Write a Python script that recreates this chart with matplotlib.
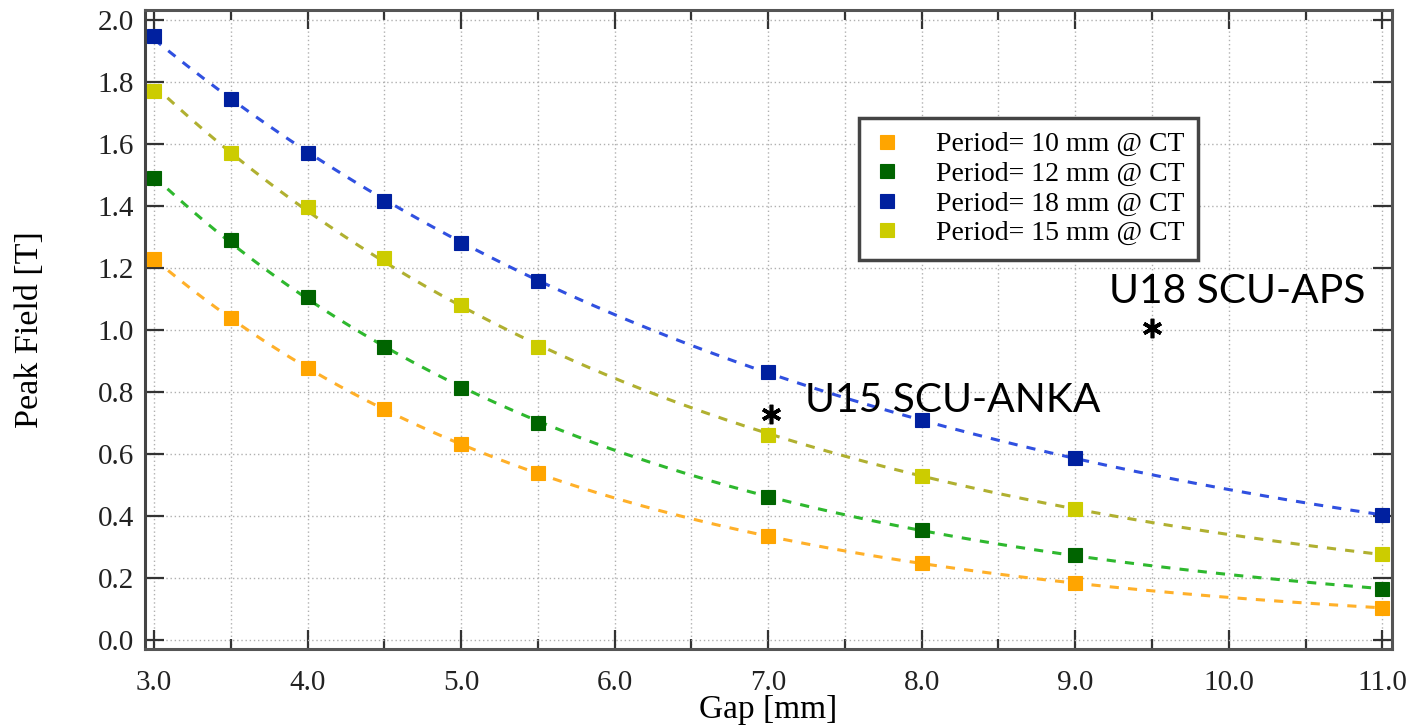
import numpy as np
import matplotlib
matplotlib.use('Agg')
import matplotlib.pyplot as plt
from matplotlib.ticker import MultipleLocator

plt.rcParams['font.family'] = ['Liberation Serif', 'DejaVu Serif']

# gap [mm]
gap = [3.0, 3.5, 4.0, 4.5, 5.0, 5.5, 7.0, 8.0, 9.0, 11.0]

# peak field [T]
b_10mm = [1.228, 1.038, 0.878, 0.744, 0.632, 0.538, 0.335, 0.247, 0.183, 0.104]
b_12mm = [1.491, 1.290, 1.107, 0.946, 0.812, 0.701, 0.462, 0.355, 0.274, 0.165]
b_18mm = [1.948, 1.746, 1.570, 1.416, 1.280, 1.158, 0.866, 0.710, 0.586, 0.403]
b_15mm = [1.772, 1.572, 1.396, 1.231, 1.081, 0.946, 0.661, 0.530, 0.423, 0.276]

labels = ['Period= 10 mm @ CT', 'Period= 12 mm @ CT',
          'Period= 18 mm @ CT', 'Period= 15 mm @ CT']

# existing devices
dev_names = ['U15 SCU-ANKA', 'U18 SCU-APS']
dev_gap = [7.02, 9.5]
dev_field = [0.73, 1.005]

series = [b_10mm, b_12mm, b_18mm, b_15mm]
mark_cols = ['#ffa500', '#006400', '#00209f', '#cccc00']
line_cols = ['#ffb029', '#2eb82e', '#3050e0', '#b0b030']

fig = plt.figure(figsize=(14.1, 7.26), dpi=100)
ax = fig.add_axes([0.1028, 0.106, 0.8844, 0.8802])

g = np.array(gap)
g_fine = np.linspace(3.0, 11.0, 300)
for vals, mc, lc, lab in zip(series, mark_cols, line_cols, labels):
    # fit log(B) with a quadratic in gap, like the usual undulator formula
    p = np.polyfit(g, np.log(vals), 2)
    ax.plot(g_fine, np.exp(np.polyval(p, g_fine)), ls=(0, (3, 3)), lw=2.2,
            color=lc, zorder=3)
    ax.plot(g, vals, ls='none', marker='s', ms=10.5, mfc=mc, mec=mc,
            mew=0.8, label=lab, zorder=4)

ax.plot(dev_gap, dev_field, ls='none', marker=(6, 2, 0), ms=14, mew=2.6,
        color='black', zorder=5)
ax.text(7.24, 0.774, dev_names[0], fontsize=29.3, family='Lato', va='center')
ax.text(9.22, 1.123, dev_names[1], fontsize=29.3, family='Lato', va='center')

ax.set_xlim(2.941, 11.063)
ax.set_ylim(-0.029, 2.032)
ax.xaxis.set_major_locator(MultipleLocator(1.0))
ax.xaxis.set_minor_locator(MultipleLocator(0.5))
ax.yaxis.set_major_locator(MultipleLocator(0.2))
ax.xaxis.set_major_formatter(plt.FormatStrFormatter('%.1f'))
ax.yaxis.set_major_formatter(plt.FormatStrFormatter('%.1f'))

ax.tick_params(which='both', direction='in', top=True, right=True,
               colors='#333333', labelcolor='#222222', labelsize=21)
ax.tick_params(which='major', length=14, width=1.6, pad=15)
ax.tick_params(which='minor', length=7, width=1.6)
ax.tick_params(axis='y', which='major', pad=8)

for sp in ax.spines.values():
    sp.set_linewidth(2.2)
    sp.set_color('#555555')
ax.spines['left'].set_color('#444444')

ax.grid(True, which='both', ls=(0, (1, 2)), lw=1.0, color='#b0b0b0')

ax.set_xlabel('Gap [mm]', fontsize=24, labelpad=-1)
ax.set_ylabel('Peak Field [T]', fontsize=24.5, labelpad=38)

leg = ax.legend(loc='upper left', bbox_to_anchor=(0.573, 0.831),
                borderaxespad=0, fontsize=20, handlelength=1.0,
                handletextpad=1.25, borderpad=0.5, labelspacing=0.15,
                fancybox=False, framealpha=1, markerscale=0.95)
leg.get_frame().set_edgecolor('#444444')
leg.get_frame().set_linewidth(2.5)

fig.savefig('out.png', dpi=100)
